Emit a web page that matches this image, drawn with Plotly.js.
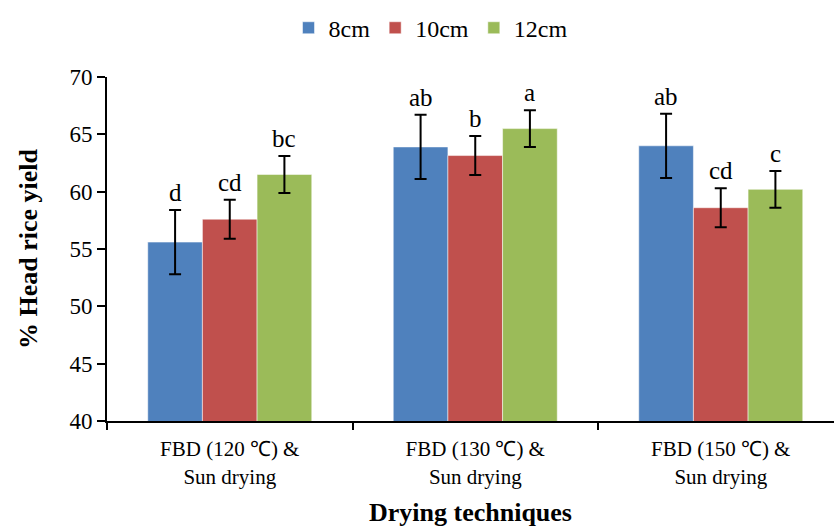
<!DOCTYPE html>
<html>
<head>
<meta charset="utf-8">
<script src="https://cdn.plot.ly/plotly-3.0.1.min.js"></script>
<style>html,body{margin:0;padding:0;background:#fff;}#chart{width:834px;height:527px;}</style>
</head>
<body>
<div id="chart"></div>
<script>
const categories = ["FBD (120 ℃) &<br>Sun drying", "FBD (130 ℃) &<br>Sun drying", "FBD (150 ℃) &<br>Sun drying"];
const seriesNames = ["8cm", "10cm", "12cm"];
const values8 = [55.6, 63.9, 64.0];
const values10 = [57.6, 63.15, 58.6];
const values12 = [61.5, 65.5, 60.2];
const err8 = [2.8, 2.8, 2.8];
const err10 = [1.7, 1.7, 1.7];
const err12 = [1.62, 1.6, 1.6];
const letters8 = ["d", "ab", "ab"];
const letters10 = ["cd", "b", "cd"];
const letters12 = ["bc", "a", "c"];
const yTicks = [40, 45, 50, 55, 60, 65, 70];

const colors = ["#4F81BD", "#C0504D", "#9BBB59"];
const fontFam = "'Liberation Serif', 'Times New Roman', serif";
const vals = [values8, values10, values12];
const errs = [err8, err10, err12];
const lets = [letters8, letters10, letters12];

const margin = {l: 107, r: 0, t: 77, b: 106};
const W = 834;
const plotW = W - margin.l - margin.r;
const catPx = 245.5;
const xMax = -0.5 + plotW / catPx;
const bargap = 0.332;
const barPx = catPx * (1 - bargap) / 3;

const traces = seriesNames.map((n, i) => ({
  type: "bar",
  name: n,
  x: categories,
  y: vals[i],
  marker: {color: colors[i], line: {color: "rgba(255,255,255,0.5)", width: 1}},
  error_y: {type: "data", array: errs[i], visible: true, color: "#000", thickness: 2, width: 6},
  hoverinfo: "skip"
}));

const annotations = [];
seriesNames.forEach((n, i) => {
  categories.forEach((c, j) => {
    annotations.push({
      x: c, y: vals[i][j] + errs[i][j], xref: "x", yref: "y",
      text: lets[i][j], showarrow: false, yanchor: "bottom",
      xshift: (i - 1) * barPx, yshift: 2,
      font: {family: fontFam, size: 25, color: "#000"}
    });
  });
});

const layout = {
  width: 834, height: 527,
  margin: margin,
  paper_bgcolor: "#fff", plot_bgcolor: "#fff",
  barmode: "group", bargap: bargap, bargroupgap: 0,
  showlegend: true,
  legend: {orientation: "h", x: 0.445, xanchor: "center", y: 1.142, yanchor: "middle",
           font: {family: fontFam, size: 24, color: "#000"}, itemwidth: 30, traceorder: "normal",
           itemclick: false},
  font: {family: fontFam, color: "#000"},
  xaxis: {
    type: "category", range: [-0.5, xMax], showline: true, linecolor: "#000", linewidth: 2,
    ticks: "outside", tickson: "boundaries", ticklen: 7, tickwidth: 2, tickcolor: "#000",
    ticklabelstandoff: 8,
    tickfont: {family: fontFam, size: 21, color: "#000"}, showgrid: false, zeroline: false,
    title: {text: "<b>Drying techniques</b>", font: {family: fontFam, size: 26, color: "#000"}, standoff: 15}
  },
  yaxis: {
    range: [40, 70], tickvals: yTicks, showline: true, linecolor: "#000", linewidth: 2,
    ticks: "outside", ticklen: 8, tickwidth: 2, tickcolor: "#000", showgrid: false, zeroline: false,
    tickfont: {family: fontFam, size: 23, color: "#000"},
    title: {text: "<b>% Head rice yield</b>", font: {family: fontFam, size: 26, color: "#000"}, standoff: 24}
  },
  annotations: annotations
};

Plotly.newPlot("chart", traces, layout, {staticPlot: true});
</script>
</body>
</html>
